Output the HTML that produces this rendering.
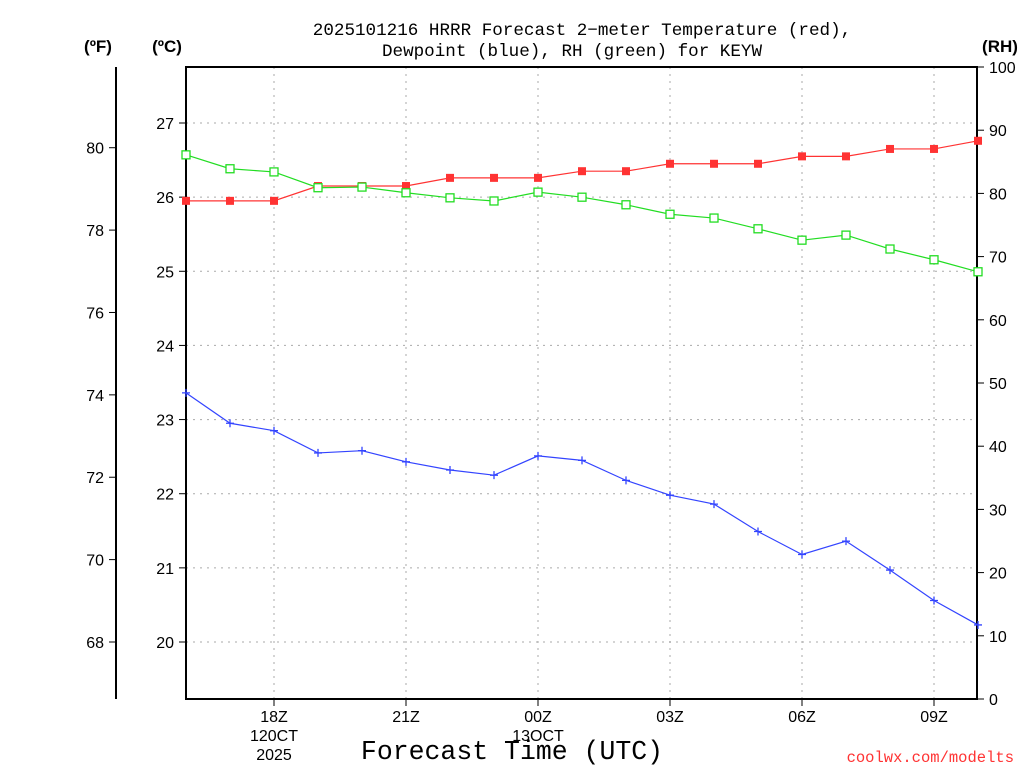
<!DOCTYPE html>
<html><head><meta charset="utf-8"><style>
body{margin:0;background:#fff}
svg{display:block;font-family:"Liberation Sans",sans-serif}
.mono{font-family:"Liberation Mono",monospace}
</style></head><body>
<svg id="c" width="1024" height="768" viewBox="0 0 1024 768">
<text class="mono" x="582" y="35" text-anchor="middle" font-size="17.6">2025101216 HRRR Forecast 2−meter Temperature (red),</text>
<text class="mono" x="572" y="56" text-anchor="middle" font-size="17.6">Dewpoint (blue), RH (green) for KEYW</text>
<text x="98" y="52" text-anchor="middle" font-size="17" font-weight="bold">(ºF)</text>
<text x="167" y="52" text-anchor="middle" font-size="17" font-weight="bold">(ºC)</text>
<text x="1000" y="52" text-anchor="middle" font-size="17" font-weight="bold">(RH)</text>
<text class="mono" x="512" y="759" text-anchor="middle" font-size="26.5">Forecast Time (UTC)</text>
<text class="mono" x="1014" y="762" text-anchor="end" font-size="15.5" fill="#ff3333">coolwx.com/modelts</text>
<g id="grid"></g><g id="axes"></g><g id="series"></g>
</svg>
<script>
const hours=[16,17,18,19,20,21,22,23,24,25,26,27,28,29,30,31,32,33,34];
const tempC=[25.95,25.95,25.95,26.15,26.15,26.15,26.26,26.26,26.26,26.35,26.35,26.45,26.45,26.45,26.55,26.55,26.65,26.65,26.76];
const dewC=[23.36,22.95,22.85,22.55,22.58,22.43,22.32,22.25,22.51,22.45,22.18,21.98,21.86,21.49,21.18,21.36,20.97,20.56,20.23];
const rh=[86.1,83.9,83.4,80.9,81.0,80.1,79.3,78.8,80.2,79.4,78.2,76.7,76.1,74.4,72.6,73.4,71.2,69.5,67.6];
const cTicks=[20,21,22,23,24,25,26,27];
const fTicks=[68,70,72,74,76,78,80];
const rhTicks=[0,10,20,30,40,50,60,70,80,90,100];
const xTickHours=[18,21,24,27,30,33];
const xTickLabels=["18Z","21Z","00Z","03Z","06Z","09Z"];
const L=186,R=977,T=67,B=699;
const NS="http://www.w3.org/2000/svg";
const X=h=>L+(h-16)*44;
const YC=c=>642-(c-20)*74.143;
const YF=f=>YC((f-32)*5/9);
const YR=r=>B-r*6.32;
function el(p,t,a){const e=document.createElementNS(NS,t);for(const k in a)e.setAttribute(k,a[k]);document.getElementById(p).appendChild(e);return e;}
function txt(p,x,y,s,anchor,size){const e=el(p,'text',{x:x,y:y,'text-anchor':anchor,'font-size':size||16});e.textContent=s;return e;}
cTicks.forEach(c=>{const e=el('grid','line',{x1:L,x2:R,y1:YC(c),y2:YC(c),stroke:'#aaa','stroke-dasharray':'2,5'});

});
xTickHours.forEach(h=>{const e=el('grid','line',{x1:X(h),x2:X(h),y1:T,y2:B,stroke:'#aaa','stroke-dasharray':'2,5'});

});
const f=el('axes','rect',{x:L,y:T,width:R-L,height:B-T,fill:'none',stroke:'#000','stroke-width':2});


const fl=el('axes','line',{x1:116,x2:116,y1:T,y2:B,stroke:'#000','stroke-width':2});


cTicks.forEach(c=>{el('axes','line',{x1:L-7,x2:L,y1:YC(c),y2:YC(c),stroke:'#000'});
const t=txt('axes',L-12,YC(c)+6,String(c),'end');

});
fTicks.forEach(v=>{el('axes','line',{x1:109,x2:116,y1:YF(v),y2:YF(v),stroke:'#000'});
const t=txt('axes',104,YF(v)+6,String(v),'end');

});
rhTicks.forEach(v=>{el('axes','line',{x1:R,x2:R+7,y1:YR(v),y2:YR(v),stroke:'#000'});
const t=txt('axes',R+12,YR(v)+6,String(v),'start');

});
xTickHours.forEach((h,i)=>{el('axes','line',{x1:X(h),x2:X(h),y1:B,y2:B+7,stroke:'#000'});
const t=txt('axes',X(h),B+23,xTickLabels[i],'middle');

});
[["120CT",X(18),741],["2025",X(18),760],["13OCT",X(24),741]].forEach(d=>{const t=txt('axes',d[1],d[2],d[0],'middle');

});
function series(vals,yf,color,name,marker){
const pts=vals.map((v,i)=>X(hours[i])+','+yf(v)).join(' ');
const pl=el('series','polyline',{points:pts,fill:'none',stroke:color,'stroke-width':1.2});


vals.forEach((v,i)=>{const x=X(hours[i]),y=yf(v);let m;
if(marker==='fill')m=el('series','rect',{x:x-4,y:y-4,width:8,height:8,fill:color});
else if(marker==='open')m=el('series','rect',{x:x-4,y:y-4,width:8,height:8,fill:'#fff',stroke:color,'stroke-width':1.3});
else m=el('series','path',{d:`M${x-4},${y}H${x+4}M${x},${y-4}V${y+4}`,stroke:color,'stroke-width':1.3});

});}
series(tempC,YC,'#ff3333','temperature','fill');
series(dewC,YC,'#3344ff','dewpoint','plus');
series(rh,YR,'#22dd22','rh','open');
</script>
</body></html>
